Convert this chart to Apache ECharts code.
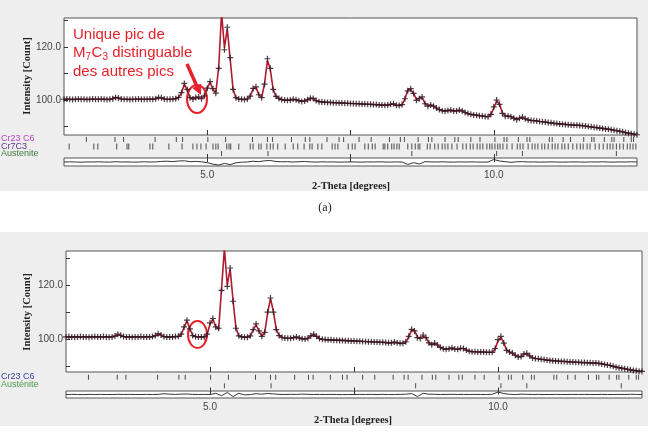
<!DOCTYPE html>
<html><head><meta charset="utf-8">
<script src="https://cdn.jsdelivr.net/npm/echarts@6/dist/echarts.min.js"></script>
<style>html,body{margin:0;padding:0;background:#fff}#c{width:651px;height:434px}</style>
</head><body><div id="c"></div>
<script>
// 2-theta sampling of the profile (degrees)
const tth = [
2.5,2.55,2.6,2.65,2.7,2.75,2.8,2.85,2.9,2.95,
3,3.05,3.1,3.15,3.2,3.25,3.3,3.35,3.4,3.45,
3.5,3.55,3.6,3.65,3.7,3.75,3.8,3.85,3.9,3.95,
4,4.05,4.1,4.15,4.2,4.25,4.3,4.35,4.4,4.45,
4.5,4.55,4.6,4.65,4.7,4.75,4.8,4.85,4.9,4.95,
5,5.05,5.1,5.15,5.2,5.25,5.3,5.35,5.4,5.45,
5.5,5.55,5.6,5.65,5.7,5.75,5.8,5.85,5.9,5.95,
6,6.05,6.1,6.15,6.2,6.25,6.3,6.35,6.4,6.45,
6.5,6.55,6.6,6.65,6.7,6.75,6.8,6.85,6.9,6.95,
7,7.05,7.1,7.15,7.2,7.25,7.3,7.35,7.4,7.45,
7.5,7.55,7.6,7.65,7.7,7.75,7.8,7.85,7.9,7.95,
8,8.05,8.1,8.15,8.2,8.25,8.3,8.35,8.4,8.45,
8.5,8.55,8.6,8.65,8.7,8.75,8.8,8.85,8.9,8.95,
9,9.05,9.1,9.15,9.2,9.25,9.3,9.35,9.4,9.45,
9.5,9.55,9.6,9.65,9.7,9.75,9.8,9.85,9.9,9.95,
10,10.05,10.1,10.15,10.2,10.25,10.3,10.35,10.4,10.45,
10.5,10.55,10.6,10.65,10.7,10.75,10.8,10.85,10.9,10.95,
11,11.05,11.1,11.15,11.2,11.25,11.3,11.35,11.4,11.45,
11.5,11.55,11.6,11.65,11.7,11.75,11.8,11.85,11.9,11.95,
12,12.05,12.1,12.15,12.2,12.25,12.3,12.35,12.4,12.45,
12.5];

// (a) observed / calculated intensities
const obsTop = [
100.3,100.4,100.3,100.2,100.3,100.4,100.3,100.3,100.2,100.3,
100.4,100.3,100.3,100.4,100.3,100.2,100.3,100.5,101.0,100.8,
100.4,100.3,100.3,100.2,100.3,100.3,100.4,100.3,100.3,100.3,
100.4,100.3,100.5,101.0,100.9,100.4,100.3,100.3,100.4,100.5,
101.0,102.8,106.3,104.0,100.9,100.4,101.0,101.2,100.5,101.6,
104.5,107.0,104.3,102.6,112.0,134.0,119.0,127.5,116.0,104.0,
100.9,100.4,100.3,100.2,100.4,101.5,104.4,105.0,102.0,100.9,
106.0,115.6,112.0,104.0,101.4,100.6,100.2,100.0,99.9,100.0,
100.3,100.1,99.7,99.5,99.6,100.1,100.7,100.6,99.8,99.4,
99.3,99.2,99.1,99.1,99.0,99.0,98.9,98.9,98.8,98.8,
98.7,98.7,98.6,98.6,98.5,98.5,98.4,98.4,98.3,98.3,
98.1,98.1,98.0,98.1,98.4,98.6,98.0,97.9,98.3,100.5,
103.5,104.3,102.5,99.9,100.5,101.2,98.6,97.7,98.1,97.7,
97.0,96.4,96.0,95.8,96.1,96.2,95.9,95.9,96.2,95.9,
95.3,94.9,94.6,94.4,94.3,94.1,94.0,93.8,93.7,94.6,
97.4,100.0,98.4,95.0,93.9,94.0,93.7,93.1,92.6,93.1,
93.6,92.9,92.5,92.3,92.2,92.1,91.9,91.8,91.7,91.5,
91.4,91.2,91.1,91.0,90.9,90.8,90.7,90.6,90.5,90.5,
90.4,90.3,90.2,90.0,89.9,89.7,89.6,89.4,89.3,89.1,
89.0,88.8,88.6,88.4,88.2,88.0,87.7,87.5,87.3,87.1,
86.9];
const calcTop = [
100.3,100.3,100.3,100.3,100.3,100.3,100.3,100.3,100.3,100.3,
100.3,100.3,100.3,100.3,100.3,100.3,100.3,100.5,100.9,100.7,
100.4,100.3,100.3,100.3,100.3,100.3,100.3,100.3,100.3,100.3,
100.3,100.3,100.5,100.9,100.8,100.4,100.3,100.3,100.3,100.5,
101.0,102.6,106.0,103.8,100.9,100.4,100.8,100.9,100.6,101.6,
104.6,106.8,104.0,102.8,112.5,133.0,119.8,127.0,115.5,104.2,
100.9,100.4,100.3,100.3,100.4,101.5,104.2,104.8,102.0,101.0,
106.2,115.0,111.6,104.0,101.3,100.6,100.2,100.0,100.0,100.0,
100.3,100.1,99.8,99.6,99.7,100.1,100.6,100.5,99.8,99.5,
99.3,99.2,99.1,99.1,99.0,99.0,98.9,98.9,98.8,98.8,
98.7,98.7,98.6,98.6,98.5,98.5,98.4,98.4,98.3,98.3,
98.2,98.1,98.1,98.1,98.3,98.5,98.1,98.0,98.3,100.4,
103.8,104.0,102.6,100.2,100.7,101.0,98.8,97.8,98.1,97.7,
97.0,96.4,96.0,95.9,96.0,96.1,95.9,95.9,96.1,95.9,
95.3,94.9,94.6,94.4,94.3,94.1,94.0,93.8,93.7,94.5,
97.0,99.6,98.5,95.2,94.0,93.9,93.7,93.2,92.8,93.1,
93.5,92.9,92.5,92.3,92.2,92.1,91.9,91.8,91.7,91.5,
91.4,91.2,91.1,91.0,90.9,90.8,90.7,90.6,90.5,90.5,
90.4,90.3,90.2,90.0,89.9,89.7,89.6,89.4,89.3,89.1,
89.0,88.8,88.6,88.4,88.2,88.0,87.7,87.5,87.3,87.1,
86.9];

// (b) observed / calculated intensities
const obsBot = [
100.8,100.9,100.8,100.7,100.8,100.9,100.8,100.8,100.7,100.8,
100.9,100.8,100.8,100.9,100.8,100.7,100.8,101.1,101.8,101.4,
100.9,100.8,100.8,100.7,100.8,100.8,100.9,100.8,100.8,100.8,
100.9,101.3,102.0,101.5,100.9,100.8,100.8,100.8,100.9,101.0,
101.8,104.5,107.0,103.8,101.3,100.9,100.8,100.8,100.8,101.8,
106.0,107.6,104.5,104.0,118.0,134.0,119.5,126.3,114.0,104.0,
101.2,100.8,100.7,100.7,101.2,103.5,105.6,103.0,101.0,102.5,
110.0,115.2,110.0,103.5,101.3,100.6,100.4,100.3,100.3,100.5,
100.8,100.4,100.1,100.0,100.3,101.2,101.8,101.0,100.2,99.9,
99.8,99.7,99.7,99.6,99.6,99.5,99.5,99.4,99.4,99.3,
99.3,99.2,99.2,99.1,99.1,99.0,99.0,98.9,98.9,98.8,
98.8,98.7,98.6,98.6,98.9,98.6,98.4,98.4,99.0,101.0,
103.6,103.0,100.5,100.2,101.5,100.5,98.6,97.9,98.5,97.8,
96.9,96.4,96.2,96.4,96.7,96.3,96.2,96.6,96.5,95.9,
95.5,95.3,95.3,95.2,95.2,95.2,95.1,95.1,95.1,96.5,
99.8,101.0,98.5,95.8,95.2,94.8,94.0,93.4,93.5,94.5,
94.7,93.8,93.0,92.8,92.7,92.5,92.4,92.2,92.1,92.0,
91.9,91.8,91.7,91.7,91.6,91.5,91.5,91.4,91.4,91.3,
91.3,91.2,91.2,91.1,91.1,91.0,90.8,90.6,90.4,90.2,
89.9,89.6,89.4,89.2,89.0,88.8,88.6,88.4,88.3,88.1,
88.0];
const calcBot = [
100.8,100.8,100.8,100.8,100.8,100.8,100.8,100.8,100.8,100.8,
100.8,100.8,100.8,100.8,100.8,100.8,100.8,101.1,101.6,101.3,
100.9,100.8,100.8,100.8,100.8,100.8,100.8,100.8,100.8,100.8,
100.9,101.2,101.8,101.4,100.9,100.8,100.8,100.8,100.9,101.0,
101.7,104.3,106.8,103.8,101.3,100.9,100.8,100.8,100.8,101.6,
105.6,107.4,104.6,103.6,118.5,133.5,120.0,126.0,114.3,104.2,
101.1,100.8,100.7,100.7,101.2,103.3,105.3,103.0,101.0,102.4,
109.6,115.0,110.3,103.6,101.3,100.6,100.4,100.3,100.3,100.5,
100.7,100.4,100.1,100.0,100.3,101.1,101.6,101.0,100.2,99.9,
99.8,99.7,99.7,99.6,99.6,99.5,99.5,99.4,99.4,99.3,
99.3,99.2,99.2,99.1,99.1,99.0,99.0,98.9,98.9,98.8,
98.8,98.7,98.6,98.6,98.8,98.6,98.4,98.4,98.9,100.8,
103.3,103.2,100.8,100.2,101.2,100.5,98.6,97.9,98.4,97.8,
96.9,96.4,96.2,96.4,96.6,96.3,96.2,96.5,96.5,95.9,
95.5,95.3,95.3,95.2,95.2,95.2,95.1,95.1,95.1,96.3,
99.4,100.7,98.6,95.9,95.2,94.8,94.0,93.5,93.5,94.4,
94.6,93.8,93.0,92.8,92.7,92.5,92.4,92.2,92.1,92.0,
91.9,91.8,91.7,91.7,91.6,91.5,91.5,91.4,91.4,91.3,
91.3,91.2,91.2,91.1,91.1,91.0,90.8,90.6,90.4,90.2,
89.9,89.6,89.4,89.2,89.0,88.8,88.6,88.4,88.3,88.1,
88.0];

// difference curves (obs - calc), coarse sampling
const tthDiff = [
2.5,2.6,2.7,2.8,2.9,3,3.1,3.2,3.3,3.4,
3.5,3.6,3.7,3.8,3.9,4,4.1,4.2,4.3,4.4,
4.5,4.6,4.7,4.8,4.9,5,5.1,5.2,5.3,5.4,
5.5,5.6,5.7,5.8,5.9,6,6.1,6.2,6.3,6.4,
6.5,6.6,6.7,6.8,6.9,7,7.1,7.2,7.3,7.4,
7.5,7.6,7.7,7.8,7.9,8,8.1,8.2,8.3,8.4,
8.5,8.6,8.7,8.8,8.9,9,9.1,9.2,9.3,9.4,
9.5,9.6,9.7,9.8,9.9,10,10.1,10.2,10.3,10.4,
10.5,10.6,10.7,10.8,10.9,11,11.1,11.2,11.3,11.4,
11.5,11.6,11.7,11.8,11.9,12,12.1,12.2,12.3,12.4,
12.5];
const diffTop = [
0,0.2,0,-0.2,0.1,0,0.2,0,-0.1,0.3,
0,0.1,-0.1,0,0.2,0,0.1,0.6,0.8,0.4,
1.0,1.2,0.3,0.6,0.2,-0.6,-2.2,-3.0,-1.4,-2.6,
-0.8,-0.2,0,0.8,0.3,1.2,1.5,0.5,0.2,0.3,
0,0.3,0.5,0.1,-0.1,0.2,0,0.1,-0.1,0,
0.1,0,-0.1,0.1,0,0.2,0,-0.1,0.1,0,
-2.5,-0.6,-2.0,0.3,0.1,0,0.2,0,-0.1,0.1,
0,0.1,0,-0.1,0,2.5,1.0,0.3,-0.3,0.2,
0.4,0,0.1,-0.1,0,0.1,0,-0.1,0,0.1,
0,-0.1,0.1,0,0.2,0,-0.1,0.1,0,0.2,
0];
const diffBot = [
0,0.1,0,-0.1,0.1,0,0.1,0,0,0.2,
0,0.1,0,0,0.1,0,0.1,0.8,0.3,0.1,
0.4,0.5,0.1,0,0.1,0,1.2,-1.2,2.0,-2.0,
1.2,-0.4,0,0.8,0.3,1.0,0.6,0.1,0,0.2,
0.1,0.4,0.2,0,0.1,0,0.1,0,-0.1,0,
0,0.1,0,0.1,0,0.1,0,0,0.1,0.3,
1.0,-2.0,1.2,0.3,0.2,0,0.1,0.2,0,0.1,
0,0.1,0,0,0.2,2.5,1.0,0.2,0,0.3,
0.2,0,0.1,0,0,0.1,0,0,0.1,0,
0.1,0,0,0.1,0,0,0.1,0,0.2,0.1,
0];

// reflection positions (2-theta)
const cr23c6 = [2.89,3.39,3.54,4.09,4.46,4.57,5.01,5.32,5.79,6.05,6.14,6.47,6.71,6.79,7.09,7.30,7.38,7.65,7.86,8.18,8.37,8.44,8.68,8.86,8.92,9.15,9.32,9.38,9.60,9.76,10.02,10.18,10.23,10.43,10.58,10.63,10.97,11.02,11.21,11.34,11.57,11.71,11.75,11.93,12.06,12.10,12.27,12.40,12.44];
const cr7c3 = [2.59,3.02,3.09,3.42,3.60,3.63,4.00,4.05,4.33,4.56,4.75,4.82,4.89,4.98,5.10,5.15,5.19,5.34,5.38,5.41,5.55,5.75,5.80,5.90,5.94,6.04,6.10,6.15,6.23,6.36,6.50,6.58,6.69,6.79,6.83,6.93,7.00,7.18,7.23,7.28,7.46,7.53,7.58,7.75,7.81,7.88,7.93,8.07,8.10,8.15,8.22,8.26,8.31,8.35,8.50,8.57,8.63,8.68,8.71,8.84,8.89,8.97,9.03,9.10,9.15,9.20,9.27,9.36,9.46,9.52,9.59,9.64,9.71,9.76,9.81,9.88,9.93,9.97,10.02,10.07,10.11,10.16,10.23,10.32,10.41,10.46,10.51,10.60,10.67,10.72,10.77,10.84,10.89,10.95,11.02,11.07,11.12,11.19,11.24,11.30,11.38,11.45,11.51,11.56,11.63,11.68,11.77,11.84,11.91,11.98,12.03,12.08,12.14,12.20,12.26,12.33,12.38,12.43,12.48];
const austenite = [5.25,6.06,8.57,10.05,10.50,12.14];

const yTickVals = [90,100,110,120,130];
const yLabelVals = [100,120];
const xTickVals = [5,7.5,10];
const xLabelVals = [5,10];

const chart = echarts.init(document.getElementById('c'), null, {renderer:'canvas'});
const SANS = 'Liberation Sans, Arial, sans-serif';
const SERIF = 'Liberation Serif, Times New Roman, serif';
const plus = 'path://M4,0H6V4H10V6H6V10H4V6H0V4H4Z';

function zip(a,b){return a.map((v,i)=>[v,b[i]]);}
function row(a,y){return a.map(v=>[v,y]);}

const grids = [
  {left:64, top:18, width:573, height:117, show:true, backgroundColor:'#fff', borderColor:'#555', borderWidth:1},
  {left:64, top:136, width:573, height:21, show:false},
  {left:64, top:158, width:573, height:8, show:true, backgroundColor:'#fff', borderColor:'#555', borderWidth:1},
  {left:66, top:251, width:576, height:121, show:true, backgroundColor:'#fff', borderColor:'#555', borderWidth:1},
  {left:66, top:373, width:576, height:17, show:false},
  {left:66, top:391, width:576, height:7, show:true, backgroundColor:'#fff', borderColor:'#555', borderWidth:1}
];
function xMain(g){return {type:'value', gridIndex:g, min:2.5, max:12.5, axisLine:{show:false}, splitLine:{show:false},
  axisTick:{show:true, inside:true, length:5, customValues:xTickVals, lineStyle:{color:'#333'}}, axisLabel:{show:false}};}
function xHidden(g){return {type:'value', gridIndex:g, min:2.5, max:12.5, show:false};}
function xDiff(g,len){return {type:'value', gridIndex:g, min:2.5, max:12.5, axisLine:{show:false}, splitLine:{show:false},
  axisTick:{show:true, inside:true, length:len, customValues:xTickVals, lineStyle:{color:'#333'}},
  axisLabel:{show:true, customValues:xLabelVals, formatter:v=>Number(v).toFixed(1), fontSize:10, color:'#444', fontFamily:SANS, margin:4}};}
function yMain(g,min,max){return {type:'value', gridIndex:g, min:min, max:max, axisLine:{show:false}, splitLine:{show:false},
  axisTick:{show:true, inside:true, length:4, customValues:yTickVals, lineStyle:{color:'#333'}},
  axisLabel:{show:true, customValues:yLabelVals, formatter:v=>Number(v).toFixed(1), fontSize:10, color:'#444', fontFamily:SANS, margin:3}};}

const OBS = '#2e1a24', CALC = '#b01a30', RED = '#e5222a';
const option = {
  animation:false,
  backgroundColor:'#fff',
  grid: grids,
  xAxis:[xMain(0), xHidden(1), xDiff(2,8), xMain(3), xHidden(4), xDiff(5,7)],
  yAxis:[
    yMain(0,86.8,131),
    {type:'value', gridIndex:1, min:0, max:3, inverse:true, show:false},
    {type:'value', gridIndex:2, min:-4, max:4, show:false},
    yMain(3,87.8,132.6),
    {type:'value', gridIndex:4, min:0, max:2, inverse:true, show:false},
    {type:'value', gridIndex:5, min:-3.5, max:3.5, show:false}
  ],
  series:[
    {type:'line', xAxisIndex:0, yAxisIndex:0, data:zip(tth,calcTop), showSymbol:false, lineStyle:{color:CALC, width:1.6}, z:2},
    {type:'scatter', xAxisIndex:0, yAxisIndex:0, data:zip(tth,obsTop), symbol:plus, symbolSize:6, itemStyle:{color:OBS, opacity:0.85}, z:3},
    {type:'scatter', xAxisIndex:1, yAxisIndex:1, data:row(cr23c6,0.5), symbol:'rect', symbolSize:[1,5], itemStyle:{color:'#222'}},
    {type:'scatter', xAxisIndex:1, yAxisIndex:1, data:row(cr7c3,1.5), symbol:'rect', symbolSize:[1,6], itemStyle:{color:'#222'}},
    {type:'scatter', xAxisIndex:1, yAxisIndex:1, data:row(austenite,2.5), symbol:'rect', symbolSize:[1,5], itemStyle:{color:'#222'}},
    {type:'line', xAxisIndex:2, yAxisIndex:2, data:zip(tthDiff,diffTop), showSymbol:false, lineStyle:{color:'#333', width:1}},

    {type:'line', xAxisIndex:3, yAxisIndex:3, data:zip(tth,calcBot), showSymbol:false, lineStyle:{color:CALC, width:1.6}, z:2},
    {type:'scatter', xAxisIndex:3, yAxisIndex:3, data:zip(tth,obsBot), symbol:plus, symbolSize:6, itemStyle:{color:OBS, opacity:0.85}, z:3},
    {type:'scatter', xAxisIndex:4, yAxisIndex:4, data:row(cr23c6,0.5), symbol:'rect', symbolSize:[1,5], itemStyle:{color:'#222'}},
    {type:'scatter', xAxisIndex:4, yAxisIndex:4, data:row(austenite,1.5), symbol:'rect', symbolSize:[1,5], itemStyle:{color:'#222'}},
    {type:'line', xAxisIndex:5, yAxisIndex:5, data:zip(tthDiff,diffBot), showSymbol:false, lineStyle:{color:'#333', width:1}}
  ],
  graphic:[
    {type:'rect', z:-100, silent:true, shape:{x:0,y:0,width:648,height:191}, style:{fill:'#eeeeee'}},
    {type:'rect', z:-100, silent:true, shape:{x:0,y:232,width:648,height:194}, style:{fill:'#eeeeee'}},
    {type:'text', x:27, y:76, rotation:Math.PI/2, style:{text:'Intensity [Count]', font:'bold 10.5px '+SERIF, fill:'#222', align:'center', verticalAlign:'middle'}},
    {type:'text', x:27, y:312, rotation:Math.PI/2, style:{text:'Intensity [Count]', font:'bold 10.5px '+SERIF, fill:'#222', align:'center', verticalAlign:'middle'}},
    {type:'text', x:351, y:186, style:{text:'2-Theta [degrees]', font:'bold 10.5px '+SERIF, fill:'#222', align:'center', verticalAlign:'middle'}},
    {type:'text', x:353, y:420, style:{text:'2-Theta [degrees]', font:'bold 10.5px '+SERIF, fill:'#222', align:'center', verticalAlign:'middle'}},
    {type:'text', x:1, y:139, style:{text:'Cr23 C6', font:'9px '+SANS, fill:'#c040c8', align:'left', verticalAlign:'middle'}},
    {type:'text', x:1, y:146.5, style:{text:'Cr7C3', font:'9px '+SANS, fill:'#5a3a8a', align:'left', verticalAlign:'middle'}},
    {type:'text', x:1, y:153.5, style:{text:'Austenite', font:'9px '+SANS, fill:'#3c7a3c', align:'left', verticalAlign:'middle'}},
    {type:'text', x:1, y:377, style:{text:'Cr23 C6', font:'9px '+SANS, fill:'#3c3c9c', align:'left', verticalAlign:'middle'}},
    {type:'text', x:1, y:385, style:{text:'Austénite', font:'9px '+SANS, fill:'#4a9a4a', align:'left', verticalAlign:'middle'}},
    {type:'text', x:325, y:208, style:{text:'(a)', font:'12px '+SERIF, fill:'#222', align:'center', verticalAlign:'middle'}},
    {type:'text', x:73, y:35, style:{text:'Unique pic de', font:'15px '+SANS, fill:RED, align:'left', verticalAlign:'middle'}},
    {type:'text', x:73, y:53, style:{text:'M', font:'15px '+SANS, fill:RED, align:'left', verticalAlign:'middle'}},
    {type:'text', x:85.5, y:57, style:{text:'7', font:'10px '+SANS, fill:RED, align:'left', verticalAlign:'middle'}},
    {type:'text', x:91.5, y:53, style:{text:'C', font:'15px '+SANS, fill:RED, align:'left', verticalAlign:'middle'}},
    {type:'text', x:102.5, y:57, style:{text:'3', font:'10px '+SANS, fill:RED, align:'left', verticalAlign:'middle'}},
    {type:'text', x:108, y:53, style:{text:' distinguable', font:'15px '+SANS, fill:RED, align:'left', verticalAlign:'middle'}},
    {type:'text', x:73, y:72, style:{text:'des autres pics', font:'15px '+SANS, fill:RED, align:'left', verticalAlign:'middle'}},
    {type:'line', shape:{x1:187,y1:64,x2:197,y2:86.5}, style:{stroke:RED, lineWidth:3.5}},
    {type:'polygon', shape:{points:[[201,95],[201.3,83.8],[192.3,88.0]]}, style:{fill:RED}},
    {type:'ellipse', shape:{cx:197,cy:99,rx:10,ry:14}, style:{fill:'none', stroke:RED, lineWidth:2}},
    {type:'ellipse', shape:{cx:197.5,cy:334.5,rx:9.5,ry:13.5}, style:{fill:'none', stroke:RED, lineWidth:2}}
  ]
};
chart.setOption(option);
</script>
</body></html>
